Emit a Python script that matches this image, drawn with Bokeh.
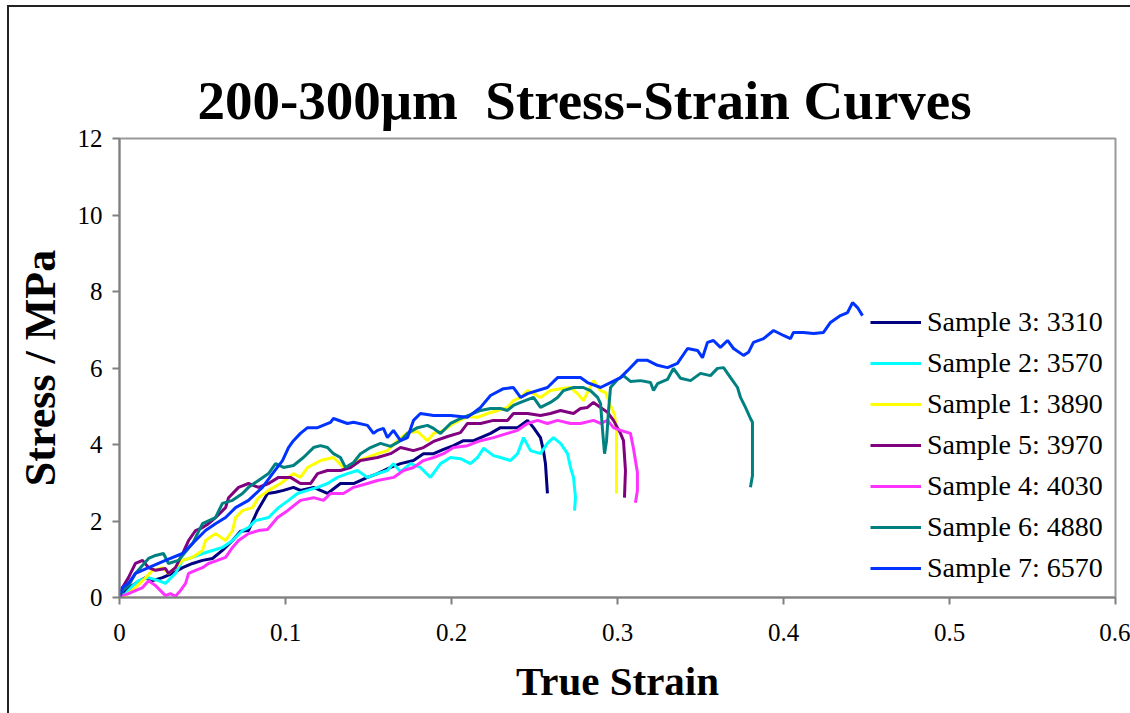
from bokeh.plotting import figure
from bokeh.models import Range1d, FixedTicker, Legend, LegendItem
from bokeh.embed import file_html
from bokeh.resources import INLINE

title_text = "200-300μm\u00a0 Stress-Strain Curves"
x_label = "True Strain"
y_label = "Stress / MPa"
x_ticks = [0, 0.1, 0.2, 0.3, 0.4, 0.5, 0.6]
x_tick_labels = ["0", "0.1", "0.2", "0.3", "0.4", "0.5", "0.6"]
y_ticks = [0, 2, 4, 6, 8, 10, 12]

series_names = ["Sample 3: 3310", "Sample 2: 3570", "Sample 1: 3890", "Sample 5: 3970",
                "Sample 4: 4030", "Sample 6: 4880", "Sample 7: 6570"]

# Sample 3: 3310
s3_x = [0, 0.0018, 0.0054, 0.0096, 0.0157, 0.0199, 0.0259, 0.0319, 0.038, 0.044,
        0.05, 0.056, 0.062, 0.0681, 0.0729, 0.0777, 0.0831, 0.0892, 0.094, 0.0988,
        0.1048, 0.109, 0.1169, 0.1253, 0.1331, 0.141, 0.1494, 0.1554, 0.1633, 0.1693,
        0.1771, 0.1831, 0.1892, 0.1952, 0.2012, 0.2072, 0.2133, 0.2235, 0.2295, 0.2398,
        0.2458, 0.2494, 0.2536, 0.2554, 0.2566, 0.2578]
s3_y = [0, 0.10, 0.24, 0.37, 0.52, 0.44, 0.52, 0.63, 0.78, 0.89,
        0.97, 1.02, 1.23, 1.49, 1.73, 1.75, 2.27, 2.72, 2.75, 2.80,
        2.88, 2.80, 2.88, 2.72, 2.98, 2.98, 3.14, 3.24, 3.40, 3.50,
        3.58, 3.76, 3.76, 3.87, 3.97, 4.10, 4.10, 4.29, 4.44, 4.44,
        4.63, 4.44, 4.18, 3.84, 3.50, 2.72]

# Sample 2: 3570
s2_x = [0, 0.0036, 0.0078, 0.0114, 0.0175, 0.0235, 0.0277, 0.0337, 0.038, 0.044,
        0.05, 0.056, 0.062, 0.0681, 0.0741, 0.0777, 0.0819, 0.0898, 0.0958, 0.1018,
        0.1072, 0.1133, 0.1193, 0.1253, 0.1313, 0.1373, 0.1434, 0.1494, 0.1554, 0.1614,
        0.165, 0.1693, 0.1753, 0.1813, 0.1873, 0.1934, 0.1994, 0.2054, 0.2114, 0.2157,
        0.2193, 0.2253, 0.2295, 0.2355, 0.2398, 0.2434, 0.2476, 0.2536, 0.2578, 0.2614,
        0.2657, 0.2699, 0.2717, 0.2735, 0.2747, 0.2741]
s2_y = [0, 0.10, 0.29, 0.44, 0.52, 0.44, 0.37, 0.63, 0.97, 1.05,
        1.15, 1.23, 1.31, 1.49, 1.75, 1.83, 2.01, 2.09, 2.35, 2.54,
        2.72, 2.80, 2.88, 2.98, 3.14, 3.24, 3.32, 3.14, 3.24, 3.32,
        3.50, 3.29, 3.50, 3.40, 3.14, 3.50, 3.66, 3.63, 3.50, 3.66,
        3.90, 3.71, 3.66, 3.58, 3.76, 4.18, 3.84, 3.76, 4.03, 4.18,
        4.03, 3.76, 3.40, 3.14, 2.61, 2.27]

# Sample 1: 3890
s1_x = [0, 0.0036, 0.0096, 0.0139, 0.0199, 0.0259, 0.0295, 0.0337, 0.038, 0.044,
        0.05, 0.0518, 0.0578, 0.0639, 0.0681, 0.0699, 0.0741, 0.0801, 0.0837, 0.0898,
        0.097, 0.1048, 0.109, 0.1133, 0.1211, 0.1289, 0.1349, 0.1373, 0.1434, 0.1494,
        0.1554, 0.1614, 0.1675, 0.1735, 0.1795, 0.1855, 0.1892, 0.1952, 0.2012, 0.2096,
        0.2157, 0.2217, 0.2277, 0.2337, 0.2373, 0.2416, 0.2458, 0.2494, 0.2536, 0.2596,
        0.2657, 0.2717, 0.2759, 0.2795, 0.2855, 0.2898, 0.2928, 0.2958, 0.2982, 0.2994,
        0.2994]
s1_y = [0, 0.05, 0.26, 0.44, 0.71, 0.78, 0.63, 0.78, 0.97, 1.05,
        1.23, 1.49, 1.67, 1.49, 1.75, 2.09, 2.27, 2.35, 2.61, 2.80,
        2.98, 3.24, 3.14, 3.40, 3.58, 3.66, 3.40, 3.42, 3.58, 3.66,
        3.76, 3.84, 4.10, 4.31, 4.34, 4.10, 4.29, 4.37, 4.55, 4.73,
        4.71, 4.81, 4.89, 4.97, 5.15, 5.23, 5.41, 5.33, 5.23, 5.41,
        5.46, 5.49, 5.33, 5.15, 5.67, 5.41, 5.36, 5.02, 4.78, 4.37,
        2.72]

# Sample 5: 3970
s5_x = [0, 0.0018, 0.0054, 0.0096, 0.0139, 0.0175, 0.0217, 0.0277, 0.0295, 0.0337,
        0.038, 0.0416, 0.0458, 0.05, 0.0536, 0.0578, 0.0639, 0.0657, 0.0717, 0.0777,
        0.0837, 0.0898, 0.0958, 0.103, 0.109, 0.1151, 0.1193, 0.1253, 0.1331, 0.1392,
        0.1452, 0.1554, 0.1633, 0.1693, 0.1771, 0.1831, 0.1892, 0.1976, 0.2054, 0.2096,
        0.2175, 0.2253, 0.2337, 0.2373, 0.2458, 0.2536, 0.2596, 0.2657, 0.2735, 0.2777,
        0.2819, 0.2855, 0.2898, 0.294, 0.2976, 0.3018, 0.3036, 0.3048, 0.3042]
s5_y = [0, 0.26, 0.52, 0.89, 0.97, 0.78, 0.71, 0.76, 0.63, 0.78,
        1.15, 1.49, 1.75, 1.83, 1.93, 2.09, 2.35, 2.61, 2.88, 2.98,
        2.88, 2.98, 3.14, 3.14, 2.98, 2.98, 3.24, 3.32, 3.32, 3.40,
        3.58, 3.66, 3.76, 3.92, 3.84, 3.92, 4.08, 4.21, 4.31, 4.55,
        4.55, 4.63, 4.63, 4.81, 4.81, 4.76, 4.81, 4.89, 4.81, 4.94,
        4.97, 5.10, 4.97, 4.84, 4.63, 4.29, 4.10, 3.32, 2.61]

# Sample 4: 4030
s4_x = [0, 0.0018, 0.0054, 0.0096, 0.0139, 0.0175, 0.0217, 0.0247, 0.0277, 0.0307,
        0.0337, 0.0367, 0.0398, 0.0416, 0.0458, 0.05, 0.0536, 0.059, 0.0639, 0.0681,
        0.0717, 0.0777, 0.0837, 0.0892, 0.0952, 0.1012, 0.109, 0.1169, 0.1229, 0.1271,
        0.1349, 0.141, 0.1494, 0.1554, 0.1651, 0.1711, 0.1771, 0.1831, 0.1892, 0.1952,
        0.2012, 0.2096, 0.2175, 0.2253, 0.2337, 0.2398, 0.2458, 0.2518, 0.2578, 0.2639,
        0.2717, 0.2777, 0.2855, 0.2898, 0.294, 0.2976, 0.3018, 0.3078, 0.3096, 0.312,
        0.312, 0.3108]
s4_y = [0, 0.05, 0.10, 0.18, 0.26, 0.44, 0.31, 0.18, 0.05, 0.10,
        0.03, 0.18, 0.37, 0.63, 0.71, 0.78, 0.89, 0.97, 1.05, 1.31,
        1.49, 1.67, 1.75, 1.78, 2.09, 2.27, 2.54, 2.61, 2.54, 2.72,
        2.72, 2.88, 2.98, 3.06, 3.14, 3.32, 3.40, 3.58, 3.66, 3.76,
        3.92, 3.97, 4.10, 4.18, 4.29, 4.37, 4.55, 4.63, 4.55, 4.63,
        4.55, 4.55, 4.63, 4.55, 4.63, 4.44, 4.37, 4.29, 3.90, 3.27,
        2.80, 2.48]

# Sample 6: 4880
s6_x = [0, 0.0018, 0.0054, 0.0096, 0.0139, 0.0175, 0.0217, 0.0265, 0.0295, 0.0355,
        0.044, 0.05, 0.0578, 0.062, 0.0681, 0.0741, 0.0777, 0.0837, 0.0898, 0.094,
        0.0988, 0.1048, 0.1108, 0.1169, 0.1211, 0.1253, 0.1289, 0.1331, 0.1361, 0.141,
        0.1452, 0.1512, 0.1572, 0.1633, 0.1693, 0.1735, 0.1795, 0.1855, 0.1892, 0.1934,
        0.1994, 0.2054, 0.2114, 0.2175, 0.2235, 0.2295, 0.2337, 0.2373, 0.2416, 0.2494,
        0.2536, 0.2596, 0.2639, 0.2675, 0.2735, 0.2795, 0.2837, 0.288, 0.2898, 0.291,
        0.2922, 0.2934, 0.2946, 0.2958, 0.3, 0.3036, 0.3078, 0.3139, 0.3199, 0.3217,
        0.3241, 0.3301, 0.3337, 0.338, 0.344, 0.35, 0.356, 0.3602, 0.3639, 0.3681,
        0.3723, 0.3741, 0.3771, 0.3801, 0.3813, 0.3813, 0.3801]
s6_y = [0, 0.18, 0.31, 0.63, 0.84, 1.02, 1.10, 1.15, 0.89, 0.97,
        1.41, 1.93, 2.09, 2.46, 2.54, 2.72, 2.88, 3.06, 3.24, 3.50,
        3.40, 3.45, 3.66, 3.92, 3.97, 3.92, 3.76, 3.66, 3.40, 3.53,
        3.76, 3.92, 4.03, 3.95, 4.10, 4.29, 4.44, 4.50, 4.42, 4.29,
        4.55, 4.68, 4.78, 4.89, 4.94, 4.94, 4.89, 5.02, 5.10, 5.23,
        4.97, 5.10, 5.23, 5.41, 5.49, 5.49, 5.41, 5.23, 5.07, 4.37,
        3.76, 4.10, 4.89, 5.49, 5.70, 5.80, 5.65, 5.67, 5.62, 5.41,
        5.59, 5.70, 5.99, 5.73, 5.67, 5.86, 5.80, 5.99, 6.01, 5.75,
        5.49, 5.23, 4.97, 4.68, 4.58, 3.19, 2.88]

# Sample 7: 6570
s7_x = [0, 0.0018, 0.0054, 0.0096, 0.0175, 0.0277, 0.038, 0.0458, 0.0518, 0.0578,
        0.0639, 0.0699, 0.0777, 0.0861, 0.0922, 0.0982, 0.1018, 0.1048, 0.109, 0.1133,
        0.1193, 0.1271, 0.1289, 0.1373, 0.141, 0.1494, 0.153, 0.1554, 0.159, 0.1614,
        0.165, 0.1693, 0.1735, 0.1771, 0.1813, 0.1892, 0.1994, 0.2096, 0.2175, 0.2235,
        0.2313, 0.2373, 0.2416, 0.2458, 0.2578, 0.2639, 0.2699, 0.2777, 0.2819, 0.2898,
        0.2958, 0.3018, 0.306, 0.312, 0.3181, 0.3241, 0.3301, 0.3361, 0.3422, 0.3482,
        0.3512, 0.3542, 0.3578, 0.362, 0.3663, 0.3699, 0.3759, 0.3789, 0.3819, 0.388,
        0.394, 0.4, 0.4042, 0.406, 0.412, 0.4181, 0.4241, 0.4283, 0.4343, 0.4386,
        0.4416, 0.4446, 0.4476]
s7_y = [0, 0.26, 0.37, 0.63, 0.78, 0.97, 1.15, 1.49, 1.75, 1.93,
        2.09, 2.35, 2.54, 2.88, 3.24, 3.58, 3.92, 4.10, 4.29, 4.44,
        4.44, 4.58, 4.68, 4.55, 4.58, 4.50, 4.29, 4.37, 4.42, 4.18,
        4.37, 4.10, 4.18, 4.63, 4.81, 4.76, 4.76, 4.71, 4.97, 5.28,
        5.46, 5.49, 5.23, 5.33, 5.49, 5.75, 5.75, 5.75, 5.62, 5.49,
        5.62, 5.75, 5.93, 6.20, 6.20, 6.07, 6.01, 6.12, 6.51, 6.46,
        6.27, 6.67, 6.72, 6.54, 6.72, 6.51, 6.33, 6.41, 6.67, 6.77,
        6.98, 6.85, 6.77, 6.93, 6.93, 6.90, 6.93, 7.19, 7.37, 7.45,
        7.71, 7.58, 7.37]

series_x = [s3_x, s2_x, s1_x, s5_x, s4_x, s6_x, s7_x]
series_y = [s3_y, s2_y, s1_y, s5_y, s4_y, s6_y, s7_y]
colors = ["#000080", "#00FFFF", "#FFFF00", "#800080", "#FF33FF", "#008080", "#0033FF"]

SERIF = "Liberation Serif"

p = figure(width=1130, height=713, output_backend="svg", toolbar_location=None,
           x_range=Range1d(0, 0.6), y_range=Range1d(0, 12),
           min_border_left=119, min_border_right=15, min_border_top=138,
           min_border_bottom=116)

p.background_fill_color = "white"
p.border_fill_color = None
p.outline_line_color = "#999999"
p.outline_line_width = 2
p.styles = {"box-shadow": "inset 7px 5px 0 0 white, inset 9px 7px 0 0 #222222"}

p.title.text = title_text
p.title.text_font = SERIF
p.title.text_font_style = "bold"
p.title.text_font_size = "55px"
p.title.text_color = "black"
p.title.align = "left"
p.title.offset = 78
p.title.standoff = 16

p.xgrid.grid_line_color = None
p.ygrid.grid_line_color = None

p.xaxis.ticker = FixedTicker(ticks=x_ticks)
p.xaxis.major_label_overrides = {t: l for t, l in zip(x_ticks, x_tick_labels)}
p.yaxis.ticker = FixedTicker(ticks=y_ticks)

for ax in (p.xaxis[0], p.yaxis[0]):
    ax.axis_line_color = "#808080"
    ax.axis_line_width = 2
    ax.major_tick_line_color = "#808080"
    ax.major_tick_line_width = 2
    ax.major_tick_in = 0
    ax.major_tick_out = 7
    ax.minor_tick_line_color = None
    ax.major_label_text_font = SERIF
    ax.major_label_text_font_size = "25px"
    ax.major_label_text_color = "black"
    ax.axis_label_text_font = SERIF
    ax.axis_label_text_font_style = "bold"
    ax.axis_label_text_color = "black"

p.xaxis.axis_label = x_label
p.xaxis.axis_label_text_font_size = "41px"
p.xaxis.major_label_standoff = 19
p.xaxis.axis_label_standoff = 14
p.yaxis.axis_label = y_label
p.yaxis.axis_label_text_font_size = "44px"
p.yaxis.major_label_standoff = 10
p.yaxis.axis_label_standoff = 10

items = []
for name, xs, ys, c in zip(series_names, series_x, series_y, colors):
    r = p.line(xs, ys, line_color=c, line_width=3)
    items.append(LegendItem(label=name, renderers=[r]))

legend = Legend(items=items, location=(751, 12),
                label_text_font=SERIF, label_text_font_size="28px",
                label_text_color="black",
                glyph_width=51, glyph_height=34, label_height=34,
                spacing=7, padding=0, margin=0, label_standoff=6,
                border_line_color=None, background_fill_alpha=0)
p.add_layout(legend)

open("out.html", "w").write(file_html(p, INLINE))
